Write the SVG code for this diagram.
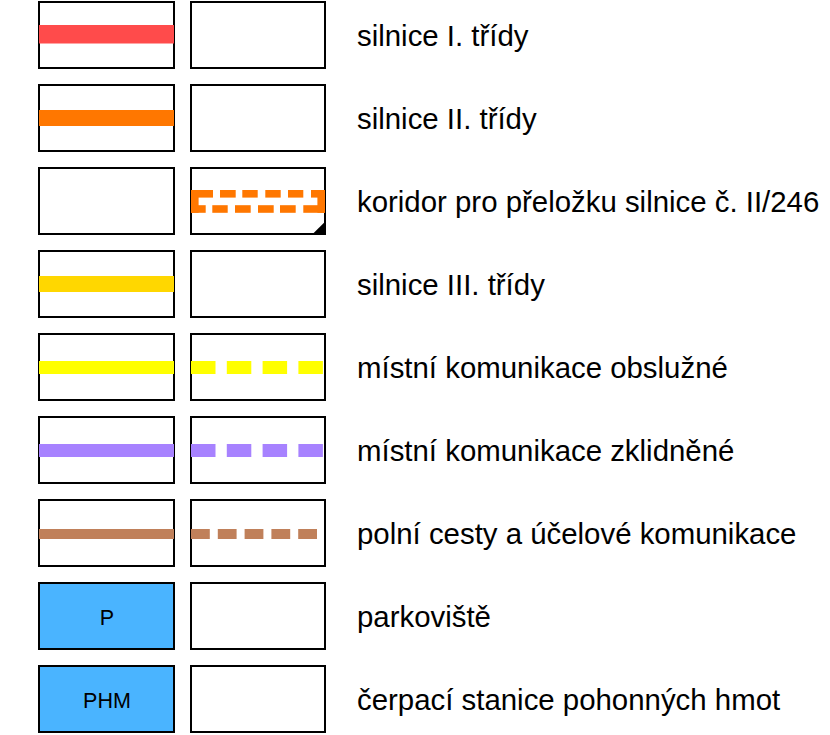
<svg xmlns="http://www.w3.org/2000/svg" width="830" height="735" viewBox="0 0 830 735">
<style>
.box{fill:#fff;stroke:#000;stroke-width:2}
.pbox{fill:#4ab4ff;stroke:#000;stroke-width:2}
.lbl{font-family:"Liberation Sans",Arial,sans-serif;font-size:29.4px;fill:#000}
.sym{font-family:"Liberation Sans",Arial,sans-serif;font-size:21.5px;fill:#000;text-anchor:middle}
.or{fill:#ff7700}
</style>
<rect width="830" height="735" fill="#fff"/>
<g id="row1">
<rect class="box" x="39" y="2" width="135" height="66"/>
<rect x="39" y="25" width="135" height="18.5" fill="#ff4b4b"/>
<rect class="box" x="191" y="2" width="134" height="66"/>
<text class="lbl" x="357" y="45.7">silnice I. třídy</text>
</g>
<g id="row2">
<rect class="box" x="39" y="85" width="135" height="66"/>
<rect x="39" y="110" width="135" height="16" fill="#ff7700"/>
<rect class="box" x="191" y="85" width="134" height="66"/>
<text class="lbl" x="357" y="128.7">silnice II. třídy</text>
</g>
<g id="row3">
<rect class="box" x="39" y="168" width="135" height="66"/>
<rect class="box" x="191" y="168" width="134" height="66"/>
<g class="or">
<rect x="191" y="190" width="22" height="7.6"/>
<rect x="220" y="190" width="15.7" height="7.6"/>
<rect x="242.3" y="190" width="15.4" height="7.6"/>
<rect x="265.3" y="190" width="15.4" height="7.6"/>
<rect x="288" y="190" width="15.3" height="7.6"/>
<rect x="311" y="190" width="14" height="7.6"/>
<rect x="191" y="205.2" width="14.7" height="7.6"/>
<rect x="212.3" y="205.2" width="15.4" height="7.6"/>
<rect x="235" y="205.2" width="15.7" height="7.6"/>
<rect x="258" y="205.2" width="15.7" height="7.6"/>
<rect x="280" y="205.2" width="15.7" height="7.6"/>
<rect x="303.3" y="205.2" width="21.7" height="7.6"/>
<rect x="191" y="190" width="7.6" height="22.8"/>
<rect x="317.4" y="190" width="7.6" height="22.8"/>
</g>
<polygon points="311.7,235 326,220.7 326,235" fill="#000"/>
<text class="lbl" x="357" y="211.7">koridor pro přeložku silnice č. II/246</text>
</g>
<g id="row4">
<rect class="box" x="39" y="251" width="135" height="66"/>
<rect x="39" y="276" width="135" height="16" fill="#ffd700"/>
<rect class="box" x="191" y="251" width="134" height="66"/>
<text class="lbl" x="357" y="294.7">silnice III. třídy</text>
</g>
<g id="row5">
<rect class="box" x="39" y="334" width="135" height="66"/>
<rect x="39" y="361" width="135" height="13" fill="#ffff00"/>
<rect class="box" x="191" y="334" width="134" height="66"/>
<line x1="191" y1="367.5" x2="323" y2="367.5" stroke="#ffff00" stroke-width="13" stroke-dasharray="24.5 11.3"/>
<text class="lbl" x="357" y="377.7">místní komunikace obslužné</text>
</g>
<g id="row6">
<rect class="box" x="39" y="417" width="135" height="66"/>
<rect x="39" y="444" width="135" height="13" fill="#a782ff"/>
<rect class="box" x="191" y="417" width="134" height="66"/>
<line x1="191" y1="450.5" x2="323" y2="450.5" stroke="#a782ff" stroke-width="13" stroke-dasharray="24.5 11.3"/>
<text class="lbl" x="357" y="460.7">místní komunikace zklidněné</text>
</g>
<g id="row7">
<rect class="box" x="39" y="500" width="135" height="66"/>
<rect x="39" y="529" width="135" height="10" fill="#c0805a"/>
<rect class="box" x="191" y="500" width="134" height="66"/>
<line x1="191" y1="534" x2="317" y2="534" stroke="#c0805a" stroke-width="10" stroke-dasharray="18.8 8"/>
<text class="lbl" x="357" y="543.7">polní cesty a účelové komunikace</text>
</g>
<g id="row8">
<rect class="pbox" x="39" y="583" width="135" height="66"/>
<text class="sym" x="107" y="624.5">P</text>
<rect class="box" x="191" y="583" width="134" height="66"/>
<text class="lbl" x="357" y="626.7">parkoviště</text>
</g>
<g id="row9">
<rect class="pbox" x="39" y="666" width="135" height="66"/>
<text class="sym" x="107" y="707.5">PHM</text>
<rect class="box" x="191" y="666" width="134" height="66"/>
<text class="lbl" x="357" y="709.7">čerpací stanice pohonných hmot</text>
</g>
<g id="connectors"/>
</svg>
